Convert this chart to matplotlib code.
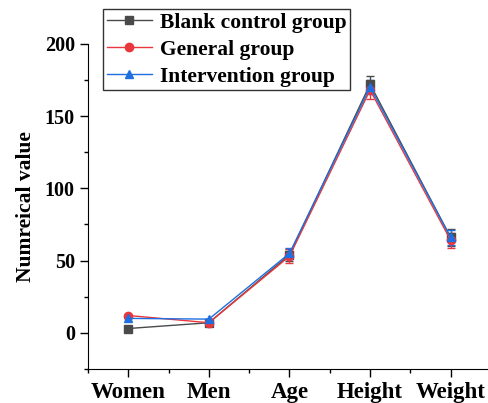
import matplotlib.pyplot as plt
from matplotlib.lines import Line2D
from matplotlib.ticker import MultipleLocator

categories = ["Women", "Men", "Age", "Height", "Weight"]
blank = [3, 7, 54, 172, 66]
blank_err = [0, 0, 4, 6, 6]
general = [12, 7, 53, 168, 64]
general_err = [0, 0, 5, 6, 5]
intervention = [10, 9.5, 55, 170, 66]
intervention_err = [0, 0, 4, 5, 5]

plt.rcParams['font.family'] = ['Liberation Serif', 'DejaVu Serif']
plt.rcParams['font.weight'] = 'bold'

fig = plt.figure(figsize=(4.89, 4.03), dpi=100)
ax = fig.add_axes([0.180, 0.0844, 0.824, 0.807])

x = list(range(1, len(categories) + 1))
series = [
    ("Blank control group", blank, blank_err, '#4a4a4a', 's'),
    ("General group", general, general_err, '#e8383d', 'o'),
    ("Intervention group", intervention, intervention_err, '#1f6fe0', '^'),
]
handles = []
for label, vals, err, color, marker in series:
    ax.errorbar(x, vals, yerr=err, color=color, marker=marker, markersize=6,
                linewidth=1, capsize=3, elinewidth=1)
    handles.append(Line2D([], [], color=color, marker=marker, markersize=6,
                          linewidth=1, label=label))

ax.set_xlim(0.5, 5.5)
ax.set_ylim(-25, 200)
ax.set_xticks(x)
ax.set_xticklabels(categories, fontsize=16.5, fontweight='bold')
ax.xaxis.set_minor_locator(MultipleLocator(0.5))
ax.yaxis.set_major_locator(MultipleLocator(50))
ax.yaxis.set_minor_locator(MultipleLocator(25))
ax.tick_params(axis='both', which='major', direction='out', length=6, width=1)
ax.tick_params(axis='y', which='major', labelsize=14.5)
ax.tick_params(axis='both', which='minor', direction='out', length=3, width=1)
for lbl in ax.get_yticklabels():
    lbl.set_fontweight('bold')
ax.spines['top'].set_visible(False)
ax.spines['right'].set_visible(False)
ax.set_ylabel("Numreical value", fontsize=15.5, fontweight='bold', labelpad=6)

leg = ax.legend(handles=handles, loc='upper left', bbox_to_anchor=(0.037, 1.108),
                frameon=True, fancybox=False, edgecolor='black', borderpad=0.18,
                handlelength=2.1, labelspacing=0.32, handletextpad=0.35,
                borderaxespad=0, prop={'weight': 'bold', 'size': 15.5})
leg.get_frame().set_linewidth(1)

fig.savefig("out.png", dpi=100)
